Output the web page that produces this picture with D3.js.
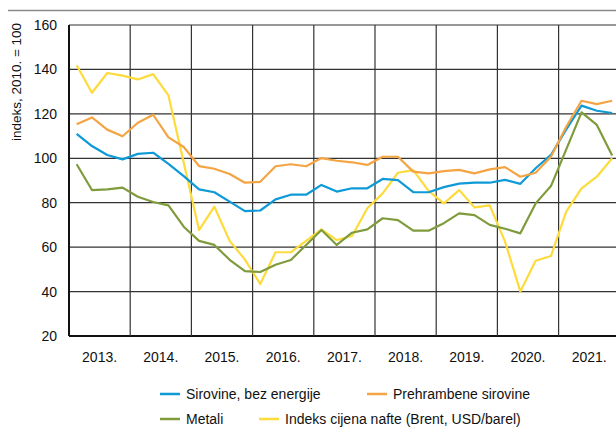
<!DOCTYPE html>
<html>
<head>
<meta charset="utf-8">
<script src="https://d3js.org/d3.v7.min.js"></script>
<style>
  body { margin: 0; background: #fff; }
  svg text { font-family: "Liberation Sans", Arial, sans-serif; fill: #111; }
</style>
</head>
<body>
<script>
// quarterly data, 2013 Q1 .. 2021 Q4
var years = ["2013.", "2014.", "2015.", "2016.", "2017.", "2018.", "2019.", "2020.", "2021."];
var yTicks = [20, 40, 60, 80, 100, 120, 140, 160];

var sirovine = [111, 105.5, 101.5, 99.5, 102, 102.5, 97.5, 92, 86, 84.7, 80.5, 76.2,
  76.5, 81.5, 83.6, 83.6, 88, 85, 86.5, 86.5, 90.7, 90.2, 84.8, 84.7,
  87, 88.6, 89, 89, 90.3, 88.5, 95.5, 101.5, 113, 123.7, 121.4, 120.4];
var prehrambene = [115.3, 118.4, 112.9, 109.9, 116, 119.6, 109.4, 105.1, 96.5, 95.3, 92.9, 89,
  89.4, 96.4, 97.3, 96.4, 100.1, 98.9, 98.2, 97, 100.7, 100.7, 94, 93.2,
  94.2, 94.8, 93.2, 95, 96, 91.7, 93.5, 100.7, 114.2, 125.9, 124.4, 125.9];
var metali = [97.3, 85.7, 86, 86.8, 82.7, 80.3, 78.8, 69.2, 62.8, 61, 54.3, 49.2,
  48.8, 52.1, 54.2, 61, 67.7, 61, 66.5, 68, 73, 72.2, 67.4, 67.4,
  70.8, 75.2, 74.4, 70, 68.3, 66.2, 79.7, 87.5, 104, 120.7, 115, 101.3];
var nafta = [141.9, 129.5, 138.4, 137.2, 135.5, 137.9, 128.3, 98, 67.7, 78.2, 62.8, 54.4,
  43.4, 57.7, 57.7, 62.8, 68, 63.2, 65, 77.5, 84.2, 93.5, 94.7, 85.3,
  79.7, 85.7, 77.9, 78.8, 62.5, 40, 53.9, 56, 76, 86.5, 91.7, 100];

var series = [
  {name: "Sirovine, bez energije", color: "#0e9ad7", values: sirovine},
  {name: "Prehrambene sirovine", color: "#f4a443", values: prehrambene},
  {name: "Metali", color: "#7f9b3c", values: metali},
  {name: "Indeks cijena nafte (Brent, USD/barel)", color: "#fddb3a", values: nafta}
];

var W = 616, H = 427;
var margin = {top: 25, left: 69, bottom: 91};
var yearW = 61.2;

var svg = d3.select("body").append("svg")
    .attr("width", W)
    .attr("height", H);

var x = d3.scaleLinear()
    .domain([0, years.length * 4])
    .range([margin.left, margin.left + yearW * years.length]);
var y = d3.scaleLinear()
    .domain([20, 160])
    .range([H - margin.bottom, margin.top]);

// top rule
svg.append("line")
    .attr("x1", 8).attr("x2", W)
    .attr("y1", 10.5).attr("y2", 10.5)
    .attr("stroke", "#8a8a8a").attr("stroke-width", 1.5);

svg.append("clipPath").attr("id", "clip")
  .append("rect")
    .attr("x", margin.left).attr("y", 0)
    .attr("width", W - margin.left).attr("height", H);

var grid = svg.append("g");

// horizontal grid
grid.selectAll("line.h")
  .data(yTicks).enter()
  .append("line")
    .attr("x1", margin.left).attr("x2", W)
    .attr("y1", d => y(d)).attr("y2", d => y(d))
    .attr("stroke", d => d == 20 ? "#111" : "#333")
    .attr("stroke-width", d => d == 20 ? 2 : 1.2);

// vertical grid at year boundaries
grid.selectAll("line.v")
  .data(d3.range(years.length + 1)).enter()
  .append("line")
    .attr("x1", d => x(d * 4)).attr("x2", d => x(d * 4))
    .attr("y1", y(160)).attr("y2", y(20))
    .attr("stroke", d => d == 0 ? "#111" : "#333")
    .attr("stroke-width", d => d == 0 ? 2 : 1.2);

// y tick labels
svg.selectAll("text.yt")
  .data(yTicks).enter()
  .append("text")
    .attr("x", 57)
    .attr("y", d => y(d) + 5)
    .attr("text-anchor", "end")
    .attr("font-size", 14)
    .text(d => d);

// x labels in middle of each year
svg.selectAll("text.xt")
  .data(years).enter()
  .append("text")
    .attr("x", (d, i) => x(i * 4 + 2))
    .attr("y", 362)
    .attr("text-anchor", "middle")
    .attr("font-size", 14)
    .text(d => d);

svg.append("text")
    .attr("transform", "translate(21,82) rotate(-90)")
    .attr("text-anchor", "middle")
    .attr("font-size", 13.5)
    .text("indeks, 2010. = 100");

var line = d3.line()
    .x((d, i) => x(i + 0.5))
    .y(d => y(d));

var lines = svg.append("g").attr("clip-path", "url(#clip)");
// draw order: yellow at back
[3, 2, 0, 1].forEach(function(k) {
  lines.append("path")
    .datum(series[k].values)
    .attr("fill", "none")
    .attr("stroke", series[k].color)
    .attr("stroke-width", 2.2)
    .attr("stroke-linejoin", "round")
    .attr("d", line);
});

// legend
var legPos = [[160, 394], [367, 394], [160, 419], [259, 419]];
var leg = svg.selectAll("g.leg")
  .data(series).enter()
  .append("g")
    .attr("transform", (d, i) => "translate(" + legPos[i][0] + "," + legPos[i][1] + ")");
leg.append("line")
    .attr("x1", 0).attr("x2", 20)
    .attr("stroke", d => d.color)
    .attr("stroke-width", 2.5);
leg.append("text")
    .attr("x", 26)
    .attr("y", 5)
    .attr("font-size", 14)
    .text(d => d.name);
</script>
</body>
</html>
